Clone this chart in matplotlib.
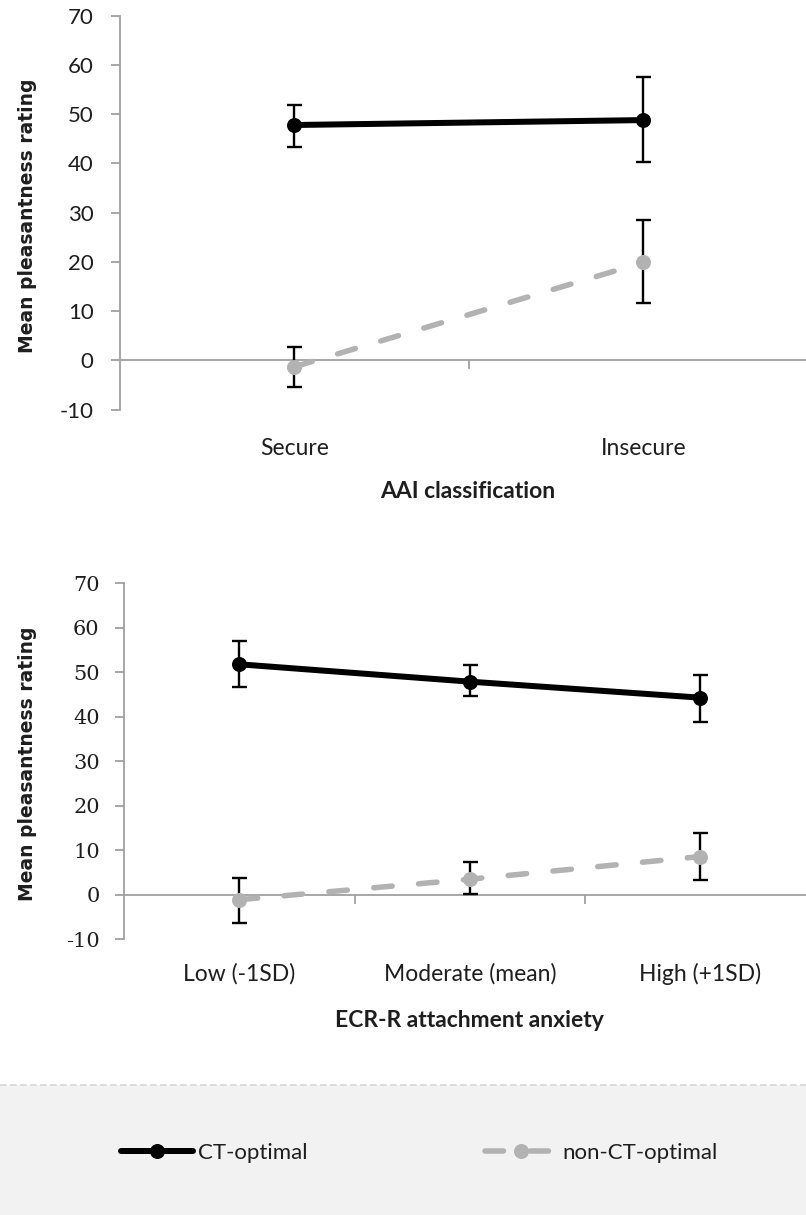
import matplotlib
matplotlib.use('Agg')
import matplotlib.pyplot as plt
from matplotlib.lines import Line2D
from matplotlib.patches import Rectangle
import matplotlib.transforms as mtransforms

# ---------------- data ----------------
aai_categories = ['Secure', 'Insecure']
aai_ct_mean = [47.8, 48.8]
aai_ct_upper = [51.8, 57.5]
aai_ct_lower = [43.4, 40.3]
aai_non_mean = [-1.3, 19.9]
aai_non_upper = [2.8, 28.5]
aai_non_lower = [-5.5, 11.6]

ecr_categories = ['Low (-1SD)', 'Moderate (mean)', 'High (+1SD)']
ecr_ct_mean = [51.8, 47.9, 44.3]
ecr_ct_upper = [57.1, 51.7, 49.4]
ecr_ct_lower = [46.8, 44.6, 38.9]
ecr_non_mean = [-1.1, 3.5, 8.6]
ecr_non_upper = [3.8, 7.3, 13.9]
ecr_non_lower = [-6.4, 0.2, 3.4]

y_ticks = [-10, 0, 10, 20, 30, 40, 50, 60, 70]
series_labels = ['CT-optimal', 'non-CT-optimal']
x_titles = ['AAI classification', 'ECR-R attachment anxiety']
y_title = 'Mean pleasantness rating'

# ---------------- style ----------------
W, H = 806, 1215
DPI = 100
PX = 72.0 / DPI  # points per pixel
BLACK = '#000000'
GRAY = '#b2b2b2'
AXIS = '#a0a0a0'
TEXT = '#1e1e1e'

ct_lw = 6 * PX
non_lw = 5.5 * PX
ms = 15 * PX
dash = (0, (18.5 / 5.5, 26.5 / 5.5))

fig = plt.figure(figsize=(W / DPI, H / DPI), dpi=DPI)


def fx(px):
    return px / W


def fy(py):
    return 1 - py / H


def make_panel(rect, cats, ct_m, ct_u, ct_l, non_m, non_u, non_l,
               tick_font, tick_size, tick_pad, cat_baseline, xlab_x, xlab_baseline,
               ylab_center, xtitle):
    ax = fig.add_axes(rect)
    n = len(cats)
    xs = list(range(n))
    ax.set_xlim(-0.5, n - 0.5)
    ax.set_ylim(-10, 70)

    # error bars
    for m, u, l in ((ct_m, ct_u, ct_l), (non_m, non_u, non_l)):
        yerr = [[mm - ll for mm, ll in zip(m, l)], [uu - mm for mm, uu in zip(m, u)]]
        ax.errorbar(xs, m, yerr=yerr, fmt='none', ecolor=BLACK,
                    elinewidth=1.7, capsize=7.5 * PX,
                    capthick=1.7, zorder=3)
    # lines
    ax.plot(xs, ct_m, color=BLACK, lw=ct_lw, marker='o', ms=ms,
            mew=0, solid_capstyle='round', zorder=5)
    ax.plot(xs, non_m, color=GRAY, lw=non_lw, linestyle=dash, marker='o', ms=ms,
            mew=0, dash_capstyle='round', zorder=4)

    # axes styling
    for s in ('top', 'right'):
        ax.spines[s].set_visible(False)
    ax.spines['left'].set_color(AXIS)
    ax.spines['left'].set_linewidth(1.3)
    ax.spines['bottom'].set_position(('data', 0))
    ax.spines['bottom'].set_color(AXIS)
    ax.spines['bottom'].set_linewidth(1.3)
    ax.spines['bottom'].set_zorder(2)

    ax.set_yticks(y_ticks)
    ax.set_yticklabels([str(t) for t in y_ticks], fontfamily=tick_font,
                       fontsize=tick_size, color=TEXT)
    ax.tick_params(axis='y', direction='out', length=9 * PX, width=1.3,
                   color=AXIS, pad=tick_pad)
    ax.set_xticks([i + 0.5 for i in range(n - 1)])
    ax.set_xticklabels([])
    ax.tick_params(axis='x', direction='out', length=9 * PX, width=1.3, color=AXIS)

    trans = mtransforms.blended_transform_factory(ax.transData, fig.transFigure)
    for i, c in enumerate(cats):
        ax.text(i, fy(cat_baseline), c, transform=trans, ha='center', va='baseline',
                fontfamily='Lato', fontsize=16.5, color=TEXT)

    fig.text(fx(xlab_x), fy(xlab_baseline), xtitle, ha='center', va='baseline',
             fontfamily='Lato', fontweight='bold', fontsize=16.5, color=TEXT)
    fig.text(fx(28), fy(ylab_center), y_title, rotation=90, ha='center', va='center',
             fontfamily='DejaVu Sans', fontweight='bold', fontsize=13.5, color=TEXT)
    return ax


# top panel: spine x=120, y 70->15.7px, -10->409.5px
top_l, top_r, top_t, top_b = 120, 818, 15.7, 409.6
make_panel([fx(top_l), fy(top_b), (top_r - top_l) / W, (top_b - top_t) / H],
           aai_categories, aai_ct_mean, aai_ct_upper, aai_ct_lower,
           aai_non_mean, aai_non_upper, aai_non_lower,
           'Lato', 16, 12.5, 455, 468, 498, 216, x_titles[0])

# bottom panel: spine x=124, y 70->583.3px, -10->939px
bot_l, bot_r, bot_t, bot_b = 124, 815.5, 583.3, 939.3
make_panel([fx(bot_l), fy(bot_b), (bot_r - bot_l) / W, (bot_b - bot_t) / H],
           ecr_categories, ecr_ct_mean, ecr_ct_upper, ecr_ct_lower,
           ecr_non_mean, ecr_non_upper, ecr_non_lower,
           'DejaVu Serif', 15, 11, 981, 469, 1027, 764, x_titles[1])

# legend area
fig.patches.append(Rectangle((0, 0), 1, fy(1085), transform=fig.transFigure,
                             facecolor='#f2f2f2', edgecolor='none', zorder=0))
fig.add_artist(Line2D([0, 1], [fy(1085), fy(1085)], transform=fig.transFigure,
                      color='#d6d6d6', lw=1.2, linestyle=(0, (4, 2))))

h_ct = Line2D([], [], color=BLACK, lw=ct_lw, marker='o', ms=ms, mew=0,
              solid_capstyle='round')
h_non = Line2D([], [], color=GRAY, lw=non_lw, linestyle=dash, marker='o', ms=ms,
               mew=0, dash_capstyle='round')
leg_fs = 16
leg_px = leg_fs / PX
for h, lab, x0 in ((h_ct, series_labels[0], 121), (h_non, series_labels[1], 485)):
    lg = fig.legend(handles=[h], labels=[lab], loc='center left',
                    bbox_to_anchor=(fx(x0), fy(1153)), frameon=False,
                    borderpad=0, borderaxespad=0, handlelength=72 / leg_px,
                    handletextpad=5 / leg_px, numpoints=1,
                    prop={'family': 'Lato', 'size': leg_fs})
    for t in lg.get_texts():
        t.set_color(TEXT)

fig.savefig('out.png', dpi=DPI)
